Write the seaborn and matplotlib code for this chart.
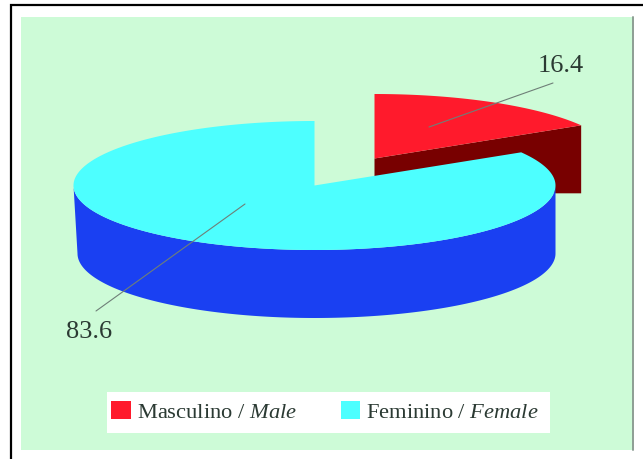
import numpy as np
import matplotlib
matplotlib.use("Agg")
import matplotlib.pyplot as plt
from matplotlib.patches import Patch, Polygon, Rectangle
import seaborn as sns

categories = ["Masculino / $\\mathit{Male}$", "Feminino / $\\mathit{Female}$"]
shares = [16.4, 83.6]
value_labels = ["16.4", "83.6"]

sns.set_theme(style="white")
plt.rcParams["font.family"] = ["Liberation Serif"]
plt.rcParams["mathtext.fontset"] = "custom"
plt.rcParams["mathtext.rm"] = "Liberation Serif"
plt.rcParams["mathtext.it"] = "Liberation Serif:italic"

top_colors = sns.color_palette(["#FF1A2C", "#4DFFFF"])
side_colors = sns.color_palette(["#780000", "#1A40F2"])
TEXT = "#2B3A33"

# pie geometry in image pixels
RX, RY, DEPTH = 241, 64.5, 68
CENTER = np.array([314.5, 185.5])
MALE_CENTER = np.array([374.5, 158.5])


def rim(center, start, stop, n=200):
    # angles are clockwise from 12 o'clock, squashed into the tilted ellipse
    t = np.radians(np.linspace(start, stop, n))
    return np.column_stack([center[0] + RX * np.sin(t), center[1] - RY * np.cos(t)])


fig, ax = plt.subplots(figsize=(6.43, 4.59), dpi=100)
fig.subplots_adjust(0, 0, 1, 1)
ax.set_xlim(0, 643)
ax.set_ylim(459, 0)
ax.axis("off")
sns.despine(ax=ax, left=True, bottom=True)

ax.add_patch(Rectangle((21, 17), 612, 433, fc="#CDFBD7", ec="none", zorder=0))
ax.plot([633, 633], [17, 450], color="#8E9E94", lw=1.4, zorder=1)
ax.plot([11, 11, 643], [459, 4.5, 4.5], color="black", lw=1.6, zorder=1, solid_joinstyle="miter")

sweep = 360 * shares[0] / sum(shares)

# male slice, pulled out of the pie
male_rim = rim(MALE_CENTER, 0, sweep)
tip = male_rim[-1]
ax.add_patch(Polygon([MALE_CENTER, tip, (tip[0], tip[1] + DEPTH), (MALE_CENTER[0], tip[1] + DEPTH)],
                     fc=side_colors[0], ec="none", zorder=2))
ax.add_patch(Polygon(np.vstack([MALE_CENTER, male_rim]), fc=top_colors[0], ec="none", zorder=3))

# female slice: wall first, then the top face
# the lower rim pulls in a little on the left, as in the original perspective
wall = rim(CENTER, 90, 270)
lower = wall + np.array([0, DEPTH])
lower[:, 0] += 4 * np.clip(CENTER[0] - wall[:, 0], 0, None) / RX
ax.add_patch(Polygon(np.vstack([wall, lower[::-1]]), fc=side_colors[1], ec="none", zorder=4))
ax.add_patch(Polygon(np.vstack([CENTER, rim(CENTER, sweep, 360, 400)]),
                     fc=top_colors[1], ec="none", zorder=5))

# leader lines and value labels
ax.plot([429, 553], [127, 83], color="#6F7F78", lw=0.8, zorder=6)
ax.plot([245, 96], [204, 311], color="#6F7F78", lw=0.8, zorder=6)
ax.text(561, 66, value_labels[0], fontsize=19, color=TEXT, ha="center", va="center", zorder=7)
ax.text(89, 332, value_labels[1], fontsize=19, color=TEXT, ha="center", va="center", zorder=7)

# legend on its own white strip
ax.add_patch(Rectangle((107, 392), 443, 41, fc="white", ec="none", zorder=8))
handles = [Patch(fc=c, ec="none") for c in top_colors]
leg = ax.legend(handles, categories, ncol=2, loc="center", bbox_to_anchor=(325, 412),
                bbox_transform=ax.transData, fontsize=16.2, frameon=False,
                handlelength=0.88, handleheight=0.88, handletextpad=0.25, columnspacing=1.95,
                borderpad=0, labelcolor=TEXT)
leg.set_zorder(9)

fig.savefig("out.png", dpi=100)
